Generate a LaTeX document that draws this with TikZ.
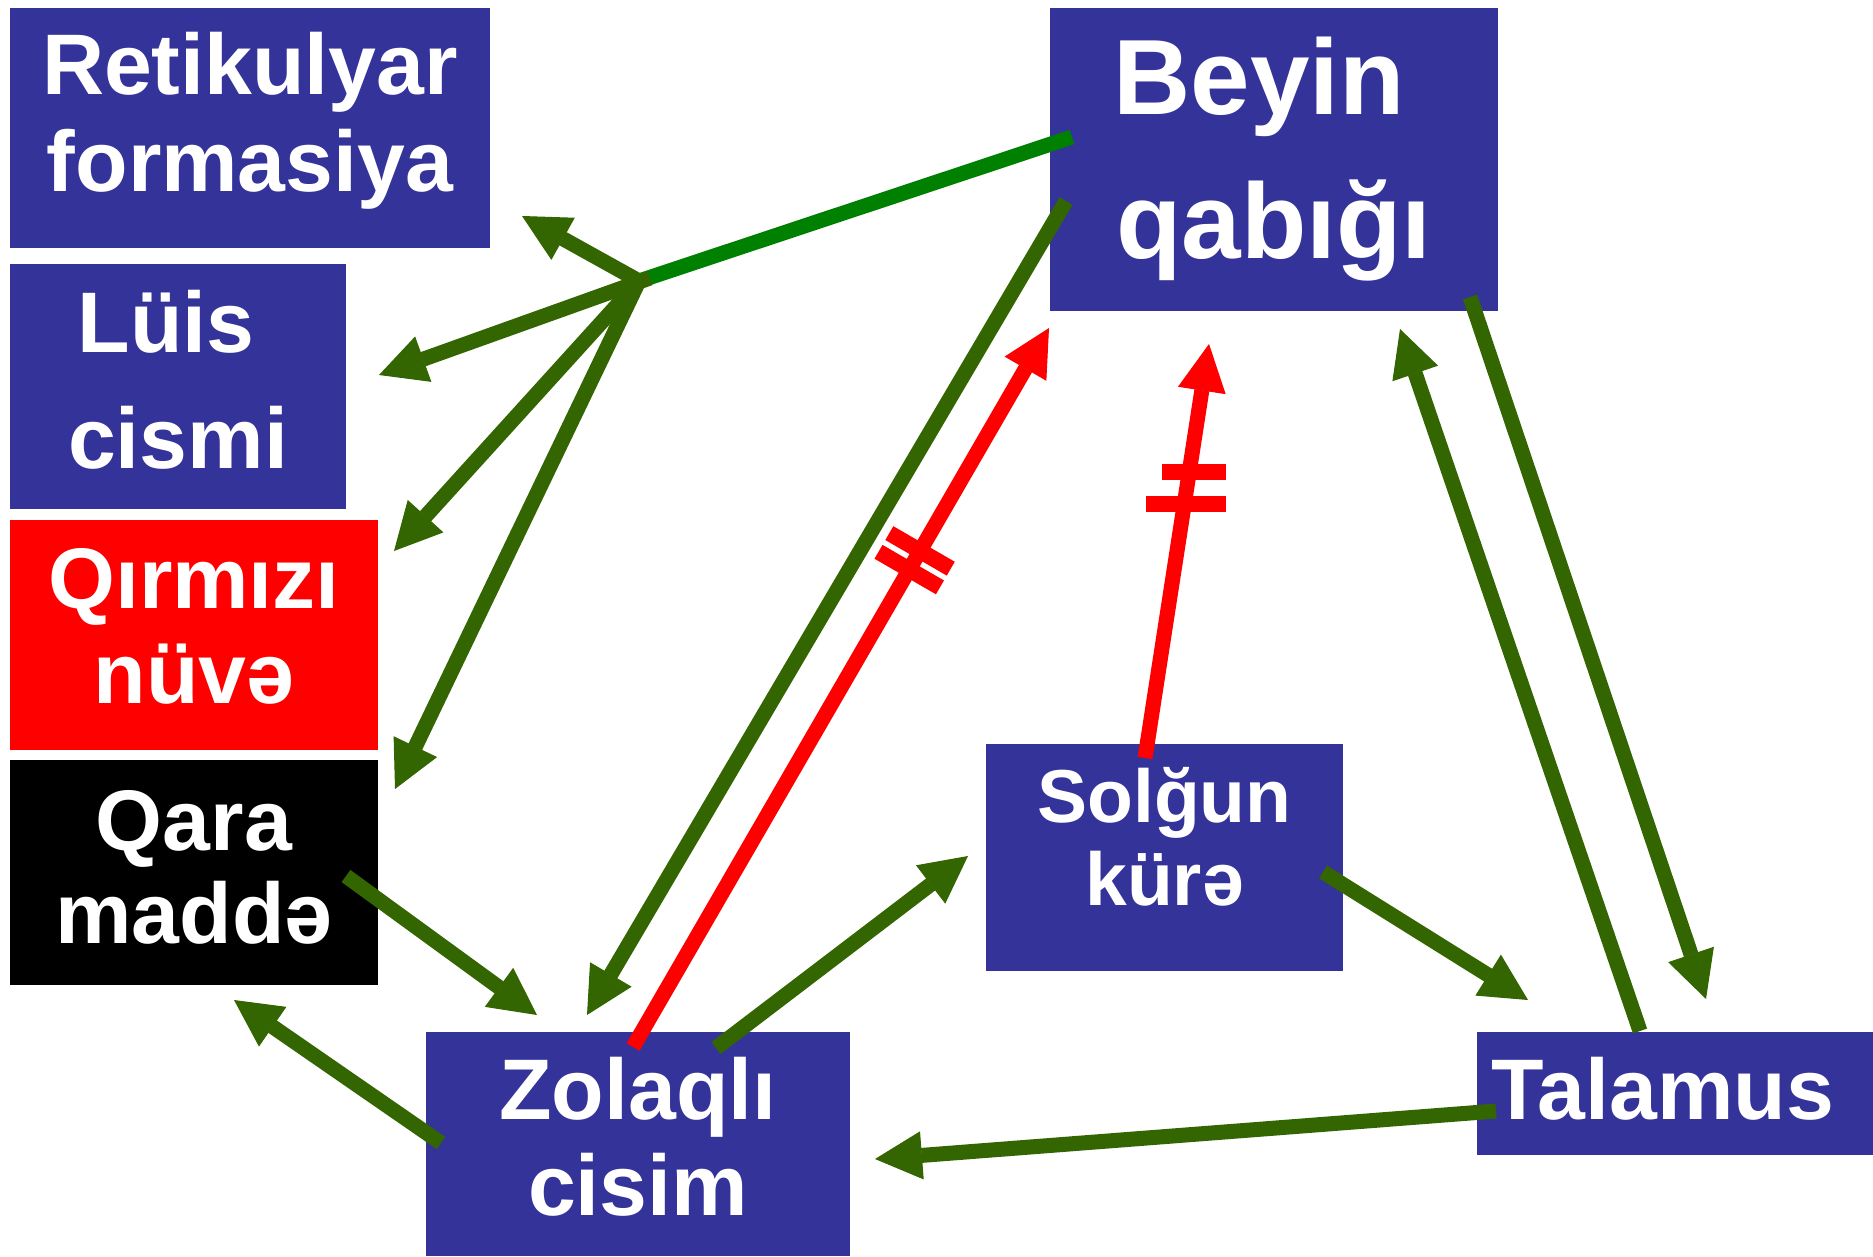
\documentclass[tikz,border=0pt]{standalone}
\usepackage{fontspec}
\setmainfont{Liberation Sans}
\usetikzlibrary{arrows.meta}

\definecolor{boxblue}{HTML}{333399}
\definecolor{darkgreen}{HTML}{336600}
\definecolor{cortexgreen}{HTML}{008000}
\newcommand{\nucfont}[2]{\fontsize{#1}{#2}\selectfont\bfseries}

\begin{document}
\begin{tikzpicture}[x=1pt, y=-1pt]
% Styles
\tikzstyle{nucleus} = [rectangle, fill=boxblue, text=white, align=center, inner sep=0pt, text depth=0pt]
\tikzstyle{arrow} = [line width=15pt, draw=darkgreen, -{Triangle[length=47pt, width=48pt, line width=1pt]}]
\tikzstyle{redarrow} = [arrow, draw=red]
\tikzstyle{bar} = [rectangle, fill=red, inner sep=0pt, minimum width=16pt, minimum height=71pt, sloped]

\useasboundingbox (0,0) rectangle (1873,1257);
\fill [white] (0,0) rectangle (1873,1257);

% Boxes
\node (retik) [nucleus, minimum width=480pt, minimum height=240pt, text height=128pt, font=\nucfont{86}{97}] at (250,128) {Retikulyar\\formasiya};
\node (luis) [nucleus, minimum width=336pt, minimum height=245pt, text height=163pt, font=\nucfont{86}{116}] at (178,386.5) {Lüis\hphantom{i}\\cismi};
\node (qirmizi) [nucleus, fill=red, minimum width=368pt, minimum height=230pt, text height=136pt, font=\nucfont{86}{95}] at (194,635) {Qırmızı\\nüvə};
\node (qara) [nucleus, fill=black, minimum width=368pt, minimum height=225pt, text height=141pt, font=\nucfont{86}{93}] at (194,872.5) {Qara\\maddə};
\node (beyin) [nucleus, minimum width=448pt, minimum height=303pt, text height=199pt, font=\nucfont{107}{144}] at (1274,159.5) {Beyin\hphantom{i}\\qabığı};
\node (solgun) [nucleus, minimum width=357pt, minimum height=227pt, text height=95pt, font=\nucfont{75}{83}] at (1164.5,857.5) {Solğun\\kürə};
\node (zolaqli) [nucleus, minimum width=424pt, minimum height=224pt, text height=142pt, font=\nucfont{86}{96}] at (638,1144) {Zolaqlı\\cisim};
\node (talamus) [nucleus, minimum width=396pt, minimum height=123pt, text height=51pt, font=\nucfont{86}{96}] at (1675,1093.5) {Talamus\hphantom{i}};

% End points
\coordinate (hub) at (639,281);
\coordinate (hubeast) at (650,278);
\coordinate (beyin-hub) at (1072,137);
\coordinate (retik-tip) at (522,216);
\coordinate (luis-tip) at (379,375);
\coordinate (qirmizi-tip) at (394,551);
\coordinate (qara-tip) at (395,789);
\coordinate (beyin-z) at (1066,201);
\coordinate (zolaqli-tip1) at (587,1015);
\coordinate (zolaqli-r) at (633,1047);
\coordinate (beyin-tip1) at (1049,328);
\coordinate (solgun-r) at (1145,758);
\coordinate (beyin-tip2) at (1209,344);
\coordinate (beyin-t) at (1470,297);
\coordinate (talamus-tip1) at (1706,999);
\coordinate (talamus-b) at (1640,1031);
\coordinate (beyin-tip3) at (1400,329);
\coordinate (solgun-t) at (1323,872);
\coordinate (talamus-tip2) at (1528,1000);
\coordinate (talamus-z) at (1496,1111);
\coordinate (zolaqli-tip2) at (875,1159);
\coordinate (zolaqli-s) at (716,1048);
\coordinate (solgun-tip) at (968,856);
\coordinate (zolaqli-q) at (441,1143);
\coordinate (qara-tip2) at (234,1000);
\coordinate (qara-z) at (346,876);
\coordinate (zolaqli-tip3) at (537,1015);

% Connectors
\draw [line width=15pt, cortexgreen] (beyin-hub) -- (hub);
\draw [arrow] (hub) -- (retik-tip);
\draw [arrow] (hubeast) -- (luis-tip);
\draw [arrow] (hub) -- (qirmizi-tip);
\draw [arrow] (hub) -- (qara-tip);
\draw [arrow] (beyin-z) -- (zolaqli-tip1);
\draw [redarrow] (zolaqli-r) -- node[bar, pos=0.664] {} node[bar, pos=0.690] {} (beyin-tip1);
\draw [redarrow] (solgun-r) -- (beyin-tip2);
\fill [red] (1162,464) rectangle (1226,480);
\fill [red] (1146,496) rectangle (1226,512);
\draw [arrow] (beyin-t) -- (talamus-tip1);
\draw [arrow] (talamus-b) -- (beyin-tip3);
\draw [arrow] (solgun-t) -- (talamus-tip2);
\draw [arrow] (talamus-z) -- (zolaqli-tip2);
\draw [arrow] (zolaqli-s) -- (solgun-tip);
\draw [arrow] (zolaqli-q) -- (qara-tip2);
\draw [arrow] (qara-z) -- (zolaqli-tip3);

\end{tikzpicture}
\end{document}
